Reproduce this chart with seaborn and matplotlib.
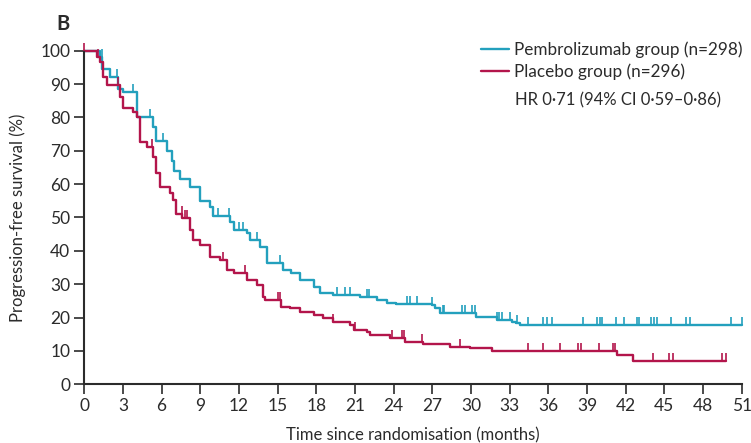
import numpy as np
import pandas as pd
import matplotlib
matplotlib.use("Agg")
import matplotlib.pyplot as plt
import seaborn as sns

# ---------------- data ----------------
pembro_label = "Pembrolizumab group (n=298)"
placebo_label = "Placebo group (n=296)"
hr_text = "HR 0·71 (94% CI 0·59–0·86)"

pembro_t = [0, 1.2, 1.37, 2.0, 2.6, 3.0, 4.07, 5.35, 5.6, 6.4, 6.8, 7.0, 7.4, 8.2,
            9.0, 9.75, 10.0, 11.3, 11.6, 12.6, 12.85, 13.6, 14.15, 15.45, 16.0,
            16.7, 17.8, 18.3, 19.3, 21.4, 22.7, 23.5, 24.2, 26.95, 27.2, 27.6,
            30.4, 32.0, 33.15, 33.5, 33.8, 51.0]
pembro_s = [100, 98, 94.5, 92, 88.5, 87.5, 80, 77, 73, 70, 67, 64, 61.5, 59,
            55, 53, 50.5, 48.5, 46.2, 45.3, 43.3, 41.2, 36.3, 34.3, 33.3,
            31.3, 29.3, 27.3, 26.8, 26.3, 25.3, 24.3, 24.0, 23.8, 22.8, 21.3,
            20.3, 19.3, 18.8, 18.3, 17.8, 17.8]
pembro_cens = [1.35, 2.0, 2.56, 3.8, 5.1, 5.35, 6.1, 10.4, 11.2, 12.0, 12.3, 13.4,
               15.2, 19.6, 20.2, 20.6, 21.9, 22.1, 25.0, 25.3, 25.8, 27.0, 27.8,
               27.9, 29.3, 29.5, 30.1, 30.3, 32.0, 32.2, 32.4, 33.0, 33.6, 34.45,
               35.6, 35.9, 36.3, 38.7, 39.8, 40.0, 40.2, 41.25, 41.9, 42.9, 43.0,
               44.0, 44.2, 44.4, 45.5, 46.7, 47.0, 50.2, 51.0]

placebo_t = [0, 0.96, 1.2, 1.47, 1.74, 2.77, 3.03, 3.8, 4.07, 4.32, 4.84, 5.35,
             5.6, 5.87, 6.65, 6.9, 7.1, 7.6, 8.2, 8.46, 8.98, 9.75, 10.5, 11.05,
             11.6, 12.6, 13.4, 13.9, 14.0, 15.3, 15.95, 16.7, 17.8, 18.5, 19.3,
             20.6, 20.9, 21.9, 22.2, 23.7, 24.9, 26.3, 28.4, 29.9, 31.6, 41.35,
             42.6, 49.8]
placebo_s = [100, 98.2, 96.7, 92.2, 89.7, 86.2, 82.7, 81.7, 80.2, 72.7, 71.2, 68.2,
             63.3, 59.2, 57.3, 55.2, 51.0, 49.8, 46.3, 43.3, 41.8, 38.3, 37.3, 34.3,
             33.3, 31.3, 29.8, 26.3, 25.3, 23.3, 22.8, 21.8, 20.8, 19.8, 18.8,
             17.8, 16.3, 15.8, 14.8, 13.8, 12.8, 12.1, 11.3, 10.8, 10.1, 8.7,
             7.1, 7.1]
placebo_cens = [0.0, 1.1, 2.64, 5.23, 7.55, 7.8, 7.95, 10.8, 12.5, 15.05, 15.2, 19.3,
                21.0, 23.9, 24.67, 24.8, 26.2, 29.15, 34.4, 35.6, 36.9, 38.3, 38.5,
                39.9, 41.0, 41.2, 44.1, 45.4, 45.7, 49.5, 49.8]

x_ticks = list(range(0, 52, 3))
y_ticks = list(range(0, 101, 10))

teal = "#23a0bd"
red = "#b3154b"

# ---------------- figure ----------------
sns.set_style("ticks")
plt.rcParams["font.family"] = ["Lato", "DejaVu Sans"]

fig = plt.figure(figsize=(7.51, 4.43), dpi=100)
ax = fig.add_axes([0.1122, 0.1325, 0.8754, 0.7531])


def censor_df(times, curve_t, curve_s):
    times = np.asarray(times, dtype=float)
    idx = np.searchsorted(np.asarray(curve_t), times, side="right") - 1
    return pd.DataFrame({"t": times, "s": np.asarray(curve_s)[idx]})


curves = [
    (pembro_t, pembro_s, pembro_cens, teal, pembro_label),
    (placebo_t, placebo_s, placebo_cens, red, placebo_label),
]

tick_marker = [(0, 0), (0, 1)]
handles = []
for t, s, cens, col, lab in curves:
    df = pd.DataFrame({"t": t, "s": s})
    sns.lineplot(data=df, x="t", y="s", drawstyle="steps-post", color=col,
                 linewidth=1.7, estimator=None, sort=False, ax=ax, clip_on=False)
    handles.append(ax.lines[-1])
    cdf = censor_df(cens, t, s)
    sns.scatterplot(data=cdf, x="t", y="s", marker=tick_marker, s=120,
                    color=col, edgecolor=col, linewidth=1.2, ax=ax,
                    clip_on=False, zorder=3)

ax.set_xlim(0, 51)
ax.set_ylim(0, 100)
ax.set_xticks(x_ticks)
ax.set_yticks(y_ticks)
ax.tick_params(axis="both", direction="out", length=7, width=1.2,
               colors="#2b2b2b", labelsize=12.5, pad=3)
for side in ["left", "bottom"]:
    ax.spines[side].set_linewidth(1.5)
    ax.spines[side].set_color("#2b2b2b")
sns.despine(ax=ax)

ax.set_xlabel("Time since randomisation (months)", fontsize=12, color="#2b2b2b")
ax.set_ylabel("Progression-free survival (%)", fontsize=12, color="#2b2b2b")
ax.xaxis.set_label_coords(0.5, -0.128)
ax.yaxis.set_label_coords(-0.088, 0.5)

leg = fig.legend(handles, [pembro_label, placebo_label],
                 loc="upper left", bbox_to_anchor=(481 / 751, 1 - 41 / 443),
                 frameon=False, fontsize=12.3, handlelength=1.65,
                 handletextpad=0.3, labelspacing=0.35, borderpad=0,
                 borderaxespad=0)
for txt in leg.get_texts():
    txt.set_color("#2b2b2b")

fig.text(515 / 751, 1 - 100 / 443, hr_text, fontsize=12, va="center",
         ha="left", color="#2b2b2b")
fig.text(56 / 751, 1 - 14 / 443, "B", fontsize=14.5, fontweight="bold",
         va="top", ha="left", color="#2b2b2b")

fig.savefig("out.png", dpi=100)
